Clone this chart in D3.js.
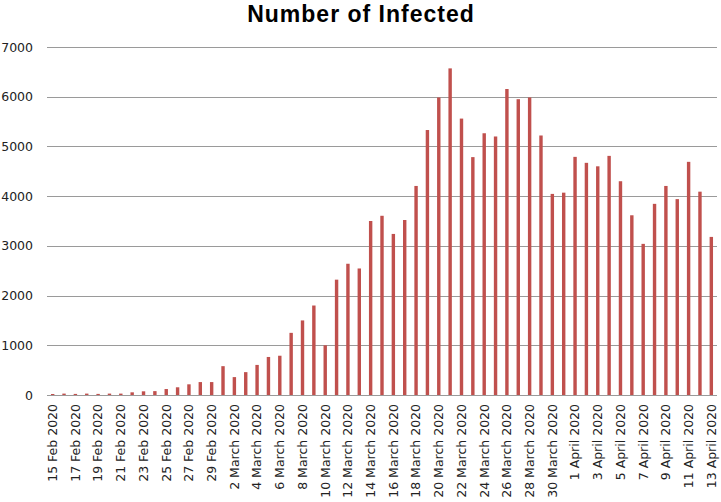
<!DOCTYPE html>
<html>
<head>
<meta charset="utf-8">
<script src="https://cdn.jsdelivr.net/npm/d3@7"></script>
<style>
  html, body { margin: 0; padding: 0; background: #fff; }
  svg { display: block; }
</style>
</head>
<body>
<svg id="chart" width="721" height="502"></svg>
<script>
const title = "Number of Infected";
const categories = [
  "15 Feb 2020","16 Feb 2020","17 Feb 2020","18 Feb 2020","19 Feb 2020","20 Feb 2020","21 Feb 2020",
  "22 Feb 2020","23 Feb 2020","24 Feb 2020","25 Feb 2020","26 Feb 2020","27 Feb 2020","28 Feb 2020","29 Feb 2020",
  "1 March 2020","2 March 2020","3 March 2020","4 March 2020","5 March 2020","6 March 2020","7 March 2020",
  "8 March 2020","9 March 2020","10 March 2020","11 March 2020","12 March 2020","13 March 2020","14 March 2020",
  "15 March 2020","16 March 2020","17 March 2020","18 March 2020","19 March 2020","20 March 2020","21 March 2020",
  "22 March 2020","23 March 2020","24 March 2020","25 March 2020","26 March 2020","27 March 2020","28 March 2020",
  "29 March 2020","30 March 2020","31 March 2020",
  "1 April 2020","2 April 2020","3 April 2020","4 April 2020","5 April 2020","6 April 2020","7 April 2020",
  "8 April 2020","9 April 2020","10 April 2020","11 April 2020","12 April 2020","13 April 2020"
];
const infected = [
  20, 28, 22, 28, 22, 28, 28,
  54, 74, 78, 120, 155, 215, 260, 260,
  580, 360, 460, 605, 765, 790, 1250,
  1500, 1800, 1000, 2320, 2640, 2545, 3500,
  3605, 3240, 3520, 4205, 5330, 5985, 6570,
  5560, 4785, 5265, 5200, 6155, 5950, 5985,
  5220, 4045, 4070,
  4790, 4670, 4600, 4810, 4300, 3615, 3040,
  3845, 4205, 3940, 4690, 4090, 3180
];
const yTicks = [0, 1000, 2000, 3000, 4000, 5000, 6000, 7000];

const svg = d3.select("#chart");
const margin = { left: 47, right: 4, top: 47, bottom: 107 };
const W = 721, H = 502;

const x = d3.scaleBand()
  .domain(categories)
  .range([margin.left, W - margin.right])
  .paddingInner(0.7)
  .paddingOuter(0.35);

const y = d3.scaleLinear()
  .domain([0, 7000])
  .range([H - margin.bottom, margin.top]);

// title
svg.append("text")
  .attr("x", 361)
  .attr("y", 22)
  .attr("text-anchor", "middle")
  .attr("font-family", "'Liberation Sans', Arial, sans-serif")
  .attr("font-weight", "bold")
  .attr("font-size", 23)
  .attr("letter-spacing", 1)
  .attr("fill", "#000")
  .text(title);

// gridlines
svg.append("g")
  .selectAll("line")
  .data(yTicks)
  .join("line")
  .attr("x1", margin.left)
  .attr("x2", W - margin.right)
  .attr("y1", d => Math.round(y(d)) + 0.5)
  .attr("y2", d => Math.round(y(d)) + 0.5)
  .attr("stroke", "#9a9a9a")
  .attr("stroke-width", 1);

// y axis labels
const yAxis = d3.axisLeft(y).tickValues(yTicks).tickFormat(d3.format("d")).tickSize(0).tickPadding(14);
const gy = svg.append("g")
  .attr("transform", `translate(${margin.left},0)`)
  .call(yAxis);
gy.select(".domain").remove();
gy.selectAll("text")
  .attr("font-family", "'DejaVu Sans', sans-serif")
  .attr("font-size", 12.5)
  .attr("fill", "#222");

// bars
svg.append("g")
  .selectAll("rect")
  .data(infected)
  .join("rect")
  .attr("x", (d, i) => x(categories[i]))
  .attr("width", x.bandwidth())
  .attr("y", d => y(d))
  .attr("height", d => y(0) - y(d))
  .attr("fill", "#c0504d");

// x axis labels (every second category)
const xAxis = d3.axisBottom(x)
  .tickValues(categories.filter((d, i) => i % 2 === 0))
  .tickSize(0)
  .tickPadding(0);
const gx = svg.append("g")
  .attr("transform", `translate(0,${H - margin.bottom})`)
  .call(xAxis);
gx.select(".domain").remove();
gx.selectAll("text")
  .attr("font-family", "'DejaVu Sans', sans-serif")
  .attr("font-size", 12.5)
  .attr("fill", "#222")
  .attr("text-anchor", "end")
  .attr("dy", "0.35em")
  .attr("transform", "translate(0,9) rotate(-90)")
  .attr("x", 0)
  .attr("y", 0);
</script>
</body>
</html>
